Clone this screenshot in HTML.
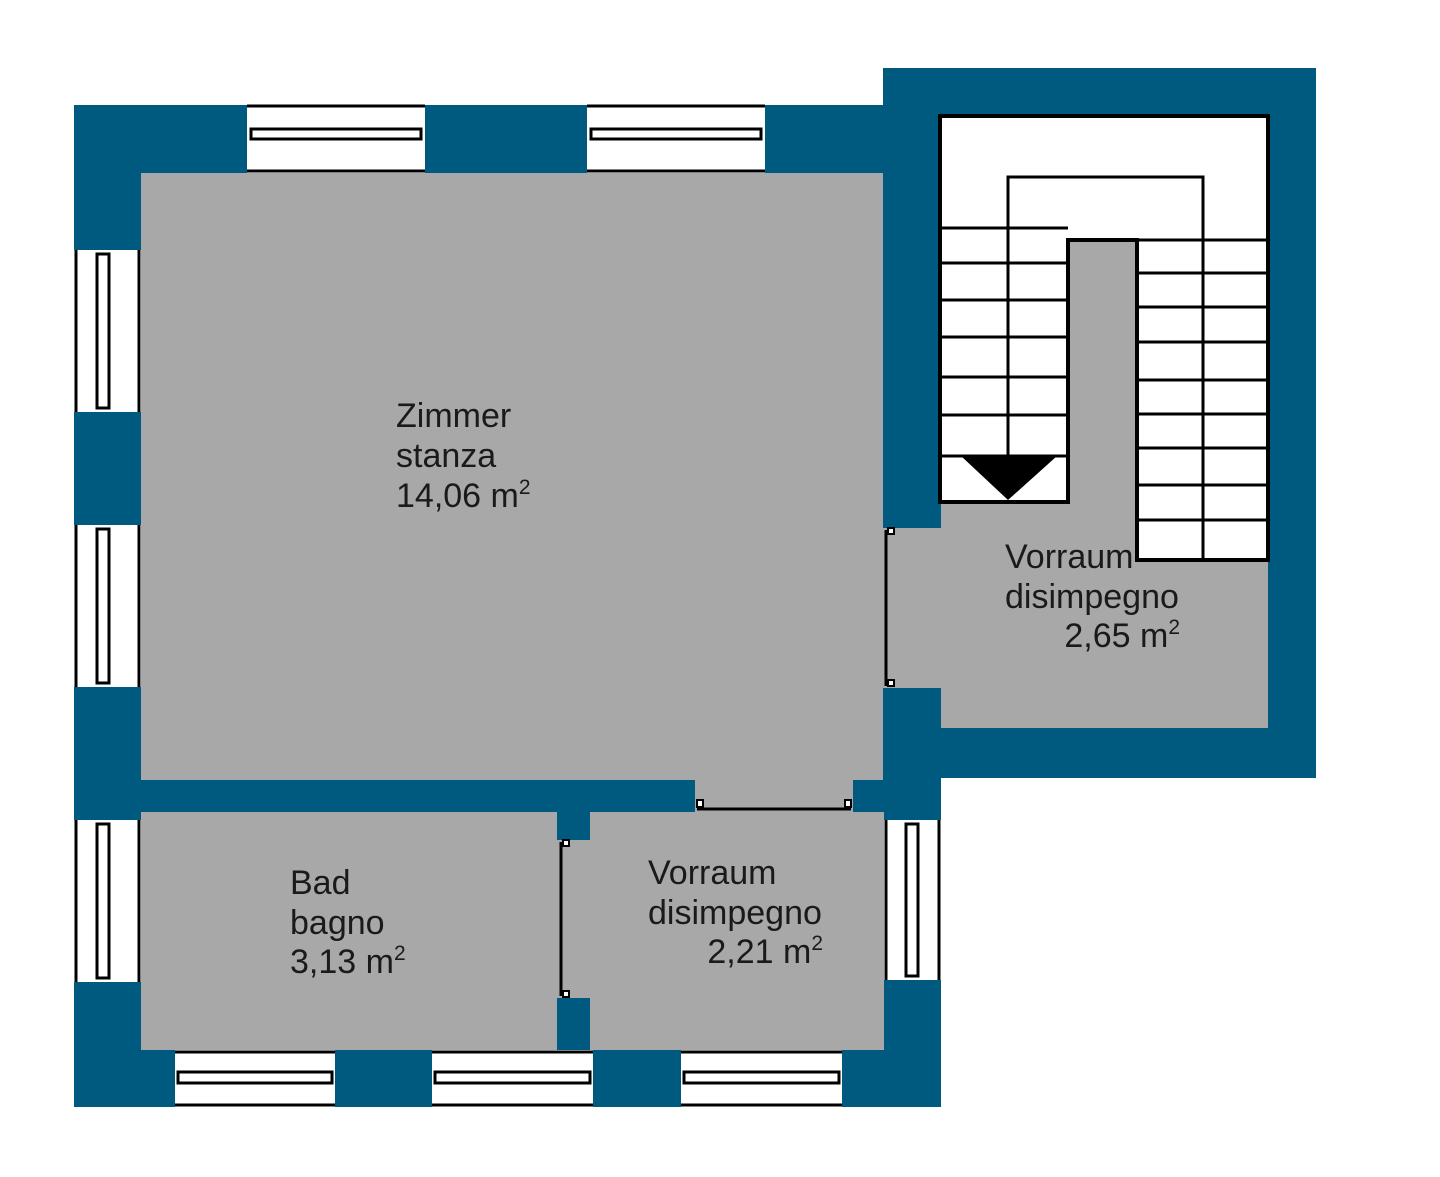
<!DOCTYPE html>
<html><head><style>body{margin:0;background:#fff}svg{display:block}</style></head><body>
<svg width="1440" height="1177" viewBox="0 0 1440 1177" xmlns="http://www.w3.org/2000/svg" font-family="Liberation Sans, sans-serif">
<g fill="#005a80">
<rect x="74" y="105" width="867" height="1002"/>
<rect x="883" y="68" width="433" height="710"/>
</g>
<g fill="#a8a8a8">
<rect x="141" y="173" width="742" height="607"/>
<rect x="695" y="775" width="158" height="40"/>
<rect x="141" y="812" width="416" height="238"/>
<rect x="590" y="812" width="294" height="238"/>
<rect x="555" y="840" width="40" height="158"/>
<rect x="880" y="528" width="65" height="160"/>
<rect x="941" y="500" width="327" height="228"/>
<rect x="1068" y="238" width="69" height="270"/>
</g>
<g stroke="#000" stroke-width="3" fill="none">
<line x1="697" y1="809" x2="851" y2="809"/>
<rect x="697" y="800" width="6" height="7" fill="#fff" stroke-width="2"/>
<rect x="845" y="800" width="6" height="7" fill="#fff" stroke-width="2"/>
<line x1="561" y1="842" x2="561" y2="996"/>
<rect x="563" y="840" width="6" height="6" fill="#fff" stroke-width="2"/>
<rect x="563" y="991" width="6" height="6" fill="#fff" stroke-width="2"/>
<line x1="886" y1="530" x2="886" y2="686"/>
<rect x="888" y="528" width="6" height="6" fill="#fff" stroke-width="2"/>
<rect x="888" y="680" width="6" height="6" fill="#fff" stroke-width="2"/>
</g>
<!-- stairs -->
<g stroke="#000" stroke-width="3">
<rect x="940" y="116" width="328" height="112" fill="#fff" stroke="none"/>
<rect x="940" y="116" width="128" height="386" fill="#fff" stroke="none"/>
<rect x="1137" y="116" width="131" height="444" fill="#fff" stroke="none"/>
<rect x="1068" y="116" width="69" height="122" fill="#fff" stroke="none"/>
<path d="M940,502 V116 H1268 V560 H1137 V240 H1068 V502 Z" fill="none" stroke-width="4"/>
<path d="M1008,458 V177 H1203 V560" fill="none"/>
<line x1="940" y1="228" x2="1068" y2="228"/>
<line x1="1137" y1="240" x2="1268" y2="240"/>
<g>
<line x1="940" y1="263" x2="1068" y2="263"/><line x1="940" y1="300" x2="1068" y2="300"/>
<line x1="940" y1="337" x2="1068" y2="337"/><line x1="940" y1="377" x2="1068" y2="377"/>
<line x1="940" y1="415" x2="1068" y2="415"/><line x1="940" y1="456" x2="1068" y2="456"/>
</g>
<g>
<line x1="1137" y1="273" x2="1268" y2="273"/><line x1="1137" y1="307" x2="1268" y2="307"/>
<line x1="1137" y1="342" x2="1268" y2="342"/><line x1="1137" y1="380" x2="1268" y2="380"/>
<line x1="1137" y1="414" x2="1268" y2="414"/><line x1="1137" y1="448" x2="1268" y2="448"/>
<line x1="1137" y1="485" x2="1268" y2="485"/><line x1="1137" y1="520" x2="1268" y2="520"/>
</g>
</g>
<polygon points="961,456 1057,456 1008,500" fill="#000"/>
<!-- windows -->
<g stroke="#000" stroke-width="3" fill="#fff">
<g><rect x="247" y="105" width="178" height="68" stroke="none"/><line x1="247" y1="106" x2="425" y2="106"/><line x1="247" y1="171" x2="425" y2="171"/><rect x="251" y="129" width="170" height="10"/></g>
<g><rect x="587" y="105" width="178" height="68" stroke="none"/><line x1="587" y1="106" x2="765" y2="106"/><line x1="587" y1="171" x2="765" y2="171"/><rect x="591" y="129" width="170" height="10"/></g>
<g><rect x="175" y="1050" width="160" height="57" stroke="none"/><line x1="175" y1="1052" x2="335" y2="1052"/><line x1="175" y1="1105" x2="335" y2="1105"/><rect x="178" y="1072" width="154" height="11"/></g>
<g><rect x="432" y="1050" width="161" height="57" stroke="none"/><line x1="432" y1="1052" x2="593" y2="1052"/><line x1="432" y1="1105" x2="593" y2="1105"/><rect x="435" y="1072" width="155" height="11"/></g>
<g><rect x="681" y="1050" width="161" height="57" stroke="none"/><line x1="681" y1="1052" x2="842" y2="1052"/><line x1="681" y1="1105" x2="842" y2="1105"/><rect x="684" y="1072" width="155" height="11"/></g>
<g><rect x="74" y="250" width="67" height="162" stroke="none"/><line x1="76" y1="250" x2="76" y2="412"/><line x1="139" y1="250" x2="139" y2="412"/><rect x="97" y="254" width="12" height="154"/></g>
<g><rect x="74" y="525" width="67" height="162" stroke="none"/><line x1="76" y1="525" x2="76" y2="687"/><line x1="139" y1="525" x2="139" y2="687"/><rect x="97" y="529" width="12" height="154"/></g>
<g><rect x="74" y="820" width="67" height="162" stroke="none"/><line x1="76" y1="820" x2="76" y2="982"/><line x1="139" y1="820" x2="139" y2="982"/><rect x="97" y="824" width="12" height="154"/></g>
<g><rect x="884" y="820" width="57" height="160" stroke="none"/><line x1="886" y1="820" x2="886" y2="980"/><line x1="939" y1="820" x2="939" y2="980"/><rect x="906" y="824" width="12" height="152"/></g>
</g>
<g font-size="34" fill="#1a1a1a">
<text x="396" y="427">Zimmer</text><text x="396" y="467">stanza</text>
<text x="396" y="507">14,06 m<tspan font-size="21" dy="-13">2</tspan></text>
<text x="290" y="894">Bad</text><text x="290" y="934">bagno</text>
<text x="290" y="973">3,13 m<tspan font-size="21" dy="-13">2</tspan></text>
<text x="648" y="884">Vorraum</text><text x="648" y="924">disimpegno</text>
<text x="823" y="963" text-anchor="end">2,21 m<tspan font-size="21" dy="-13">2</tspan></text>
<text x="1005" y="568">Vorraum</text><text x="1005" y="608">disimpegno</text>
<text x="1180" y="647" text-anchor="end">2,65 m<tspan font-size="21" dy="-13">2</tspan></text>
</g>
</svg>
</body></html>
